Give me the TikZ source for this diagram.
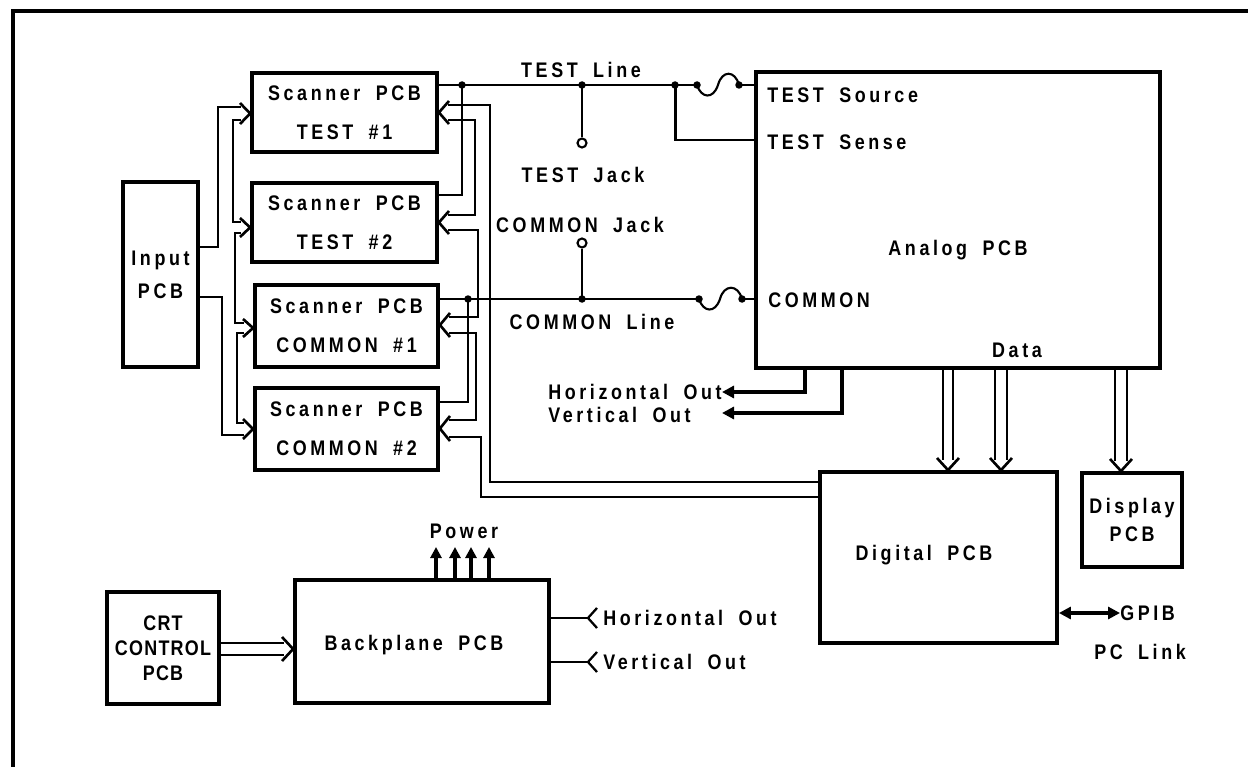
\documentclass[tikz,border=0pt]{standalone}
\usepackage{fontspec}
\setmainfont{Liberation Sans}[FakeStretch=0.85,LetterSpace=17,WordSpace=1.8]
\usetikzlibrary{arrows.meta}
\begin{document}
\begin{tikzpicture}[x=0.02cm,y=-0.02cm,
  box/.style={draw,line width=2.2pt,inner sep=0pt,align=center,font=\fontsize{12}{22}\bfseries\selectfont},
  lbl/.style={inner sep=0pt,font=\fontsize{12}{14}\bfseries\selectfont},
  wire/.style={line width=1.7pt},
  bus/.style={line width=1.5pt,line join=miter},
  hvy/.style={line width=2.5pt,-{Triangle[length=0.24cm,width=0.24cm]}},
  hvytwo/.style={line width=2.5pt,{Triangle[length=0.24cm,width=0.24cm]}-{Triangle[length=0.24cm,width=0.24cm]}},
  pwr/.style={line width=2.3pt,-{Triangle[length=0.22cm,width=0.22cm]}},
  dot/.style={fill,circle,inner sep=0pt,minimum size=0.15cm},
  jack/.style={draw,circle,line width=1.2pt,inner sep=0pt,minimum size=0.18cm}
]
\useasboundingbox (0,0) rectangle (1248,767);
% frame
\draw[line width=2pt] (13,767) -- (13,11) -- (1248,11);

% boxes
\node[box,minimum width=1.50cm,minimum height=3.70cm,font=\fontsize{12}{18.8}\bfseries\selectfont] (in) at (160.5,274.5) {Input\\PCB};
\node[box,minimum width=3.70cm,minimum height=1.58cm] (s1) at (344.5,112.5) {Scanner PCB\\TEST \#1};
\node[box,minimum width=3.70cm,minimum height=1.58cm] (s2) at (344.5,222.5) {Scanner PCB\\TEST \#2};
\node[box,minimum width=3.66cm,minimum height=1.64cm] (s3) at (346.5,326) {Scanner PCB\\COMMON \#1};
\node[box,minimum width=3.66cm,minimum height=1.64cm] (s4) at (346.5,429) {Scanner PCB\\COMMON \#2};
\node[box,minimum width=8.08cm,minimum height=5.92cm] (an) at (958,220) {};
\node[box,minimum width=4.74cm,minimum height=3.42cm] (dig) at (938.5,557.5) {};
\node[box,minimum width=2.00cm,minimum height=1.88cm,font=\fontsize{12}{15.9}\bfseries\selectfont] (disp) at (1132,520) {Display\\PCB};
\node[box,minimum width=2.24cm,minimum height=2.24cm,font=\fontsize{12}{14.2}\bfseries\addfontfeature{LetterSpace=6}\selectfont] (crt) at (163,648) {CRT\\CONTROL\\PCB};
\node[box,minimum width=5.08cm,minimum height=2.46cm] (bp) at (422,641.5) {};

% box labels
\node[lbl] (anl) at (958,250) {Analog PCB};
\node[lbl] (digl) at (924,555) {Digital PCB};
\node[lbl] (bpl) at (414,645) {Backplane PCB};
\node[lbl,anchor=west] (tso) at (767,95) {TEST Source};
\node[lbl,anchor=west] (tse) at (767,142) {TEST Sense};
\node[lbl,anchor=west] (com) at (768,300) {COMMON};
\node[lbl] (data) at (1017,350) {Data};

% other labels
\node[lbl] (tline) at (581,70) {TEST Line};
\node[lbl] (tjack) at (583,175) {TEST Jack};
\node[lbl] (cjack) at (580,225) {COMMON Jack};
\node[lbl] (cline) at (592,322) {COMMON Line};
\node[lbl,anchor=west] (ho1) at (548,392) {Horizontal Out};
\node[lbl,anchor=west] (vo1) at (548,415) {Vertical Out};
\node[lbl] (pow) at (464,531) {Power};
\node[lbl,anchor=west] (ho2) at (603,618) {Horizontal Out};
\node[lbl,anchor=west] (vo2) at (603,662) {Vertical Out};
\node[lbl,anchor=west] (gpib) at (1120,613) {GPIB};
\node[lbl] (pcl) at (1140,652) {PC Link};

% dots and jacks
\node[dot] (dt1) at (462,85) {};
\node[dot] (dt2) at (582,85) {};
\node[dot] (dt3) at (675,85) {};
\node[dot] (ft1) at (697,85) {};
\node[dot] (ft2) at (739,85) {};
\node[dot] (dc1) at (468,299) {};
\node[dot] (dc2) at (582,299) {};
\node[dot] (fc1) at (699,299) {};
\node[dot] (fc2) at (742,299) {};
\node[jack] (tj) at (582,143) {};
\node[jack] (cj) at (582,243) {};

% TEST line
\draw[wire] (s1.east |- 0,85) -- (ft1.center);
\draw[line width=1.2pt] (ft1.center) .. controls (701,98) and (713,100) .. (718,85) .. controls (722,70) and (735,70) .. (ft2.center);
\draw[wire] (ft2.center) -- (an.west |- 0,85);
\draw[wire] (dt1.center) -- (462,195) -- (s2.east |- 0,195);
\draw[wire] (dt3.center) -- (675,140) -- (an.west |- 0,140);
\draw[wire] (dt2.center) -- (tj);
% COMMON line
\draw[wire] (s3.east |- 0,299) -- (fc1.center);
\draw[line width=1.2pt] (fc1.center) .. controls (703,312) and (715,314) .. (720,299) .. controls (724,284) and (738,284) .. (fc2.center);
\draw[wire] (fc2.center) -- (an.west |- 0,299);
\draw[wire] (dc1.center) -- (468,402) -- (s4.east |- 0,402);
\draw[wire] (cj) -- (dc2.center);

% left bus (Input -> scanners)
\draw[bus] (in.east |- 0,247) -- (218,247) -- (218,107) -- (241,107);
\draw[bus] (240,103) -- (s1.west |- 0,113.5) -- (240,124);
\draw[bus] (241,120) -- (233,120) -- (233,222) -- (241,222);
\draw[bus] (240,218) -- (s2.west |- 0,227.5) -- (240,237);
\draw[bus] (241,233) -- (235,233) -- (235,323) -- (244,323);
\draw[bus] (243,319) -- (s3.west |- 0,328) -- (243,337);
\draw[bus] (244,333) -- (237,333) -- (237,423) -- (244,423);
\draw[bus] (243,419) -- (s4.west |- 0,429) -- (243,439);
\draw[bus] (in.east |- 0,297) -- (222,297) -- (222,435) -- (244,435);

% right bus (Digital -> scanners)
\draw[bus] (448,105) -- (490,105) -- (490,482) -- (dig.west |- 0,482);
\draw[bus] (449,101) -- (s1.east |- 0,112.5) -- (449,124);
\draw[bus] (448,120) -- (475,120) -- (475,215) -- (448,215);
\draw[bus] (449,211) -- (s2.east |- 0,222.5) -- (449,234);
\draw[bus] (448,230) -- (478,230) -- (478,317) -- (449,317);
\draw[bus] (450,313) -- (s3.east |- 0,325) -- (450,337);
\draw[bus] (449,333) -- (476,333) -- (476,420) -- (449,420);
\draw[bus] (450,416) -- (s4.east |- 0,428.5) -- (450,441);
\draw[bus] (449,437) -- (481,437) -- (481,497) -- (dig.west |- 0,497);

% Analog -> H/V out
\draw[hvy] (an.south -| 805,0) -- (805,392) -- (ho1.east |- 0,392);
\draw[hvy] (an.south -| 842,0) -- (842,413) -- (ho1.east |- 0,413);

% Data buses
\draw[bus] (an.south -| 943,0) -- (943,460);
\draw[bus] (an.south -| 953,0) -- (953,460);
\draw[bus] (937,458) -- (dig.north -| 948,0) -- (959,458);
\draw[bus] (an.south -| 995,0) -- (995,460);
\draw[bus] (an.south -| 1007,0) -- (1007,460);
\draw[bus] (990,458) -- (dig.north -| 1001,0) -- (1012,458);
\draw[bus] (an.south -| 1115,0) -- (1115,461);
\draw[bus] (an.south -| 1127,0) -- (1127,461);
\draw[bus] (1110,459) -- (disp.north -| 1121,0) -- (1132,459);

% CRT -> Backplane
\draw[bus] (crt.east |- 0,643) -- (284,643);
\draw[bus] (crt.east |- 0,655) -- (284,655);
\draw[bus] (282,637) -- (bp.west |- 0,649) -- (282,661);

% Power
\foreach \px in {436,455,471,489}
  \draw[pwr] (bp.north -| \px,0) -- (\px,547);

% Backplane H/V out
\coordinate (hin) at (588,618);
\coordinate (vin) at (588,662);
\draw[wire] (bp.east |- hin) -- (hin);
\draw[line width=1.3pt] (597,608) -- (hin) -- (597,628);
\draw[wire] (bp.east |- vin) -- (vin);
\draw[line width=1.3pt] (597,652) -- (vin) -- (597,672);

% GPIB
\draw[hvytwo] (dig.east |- 0,613) -- (gpib.west |- 0,613);
\end{tikzpicture}
\end{document}
